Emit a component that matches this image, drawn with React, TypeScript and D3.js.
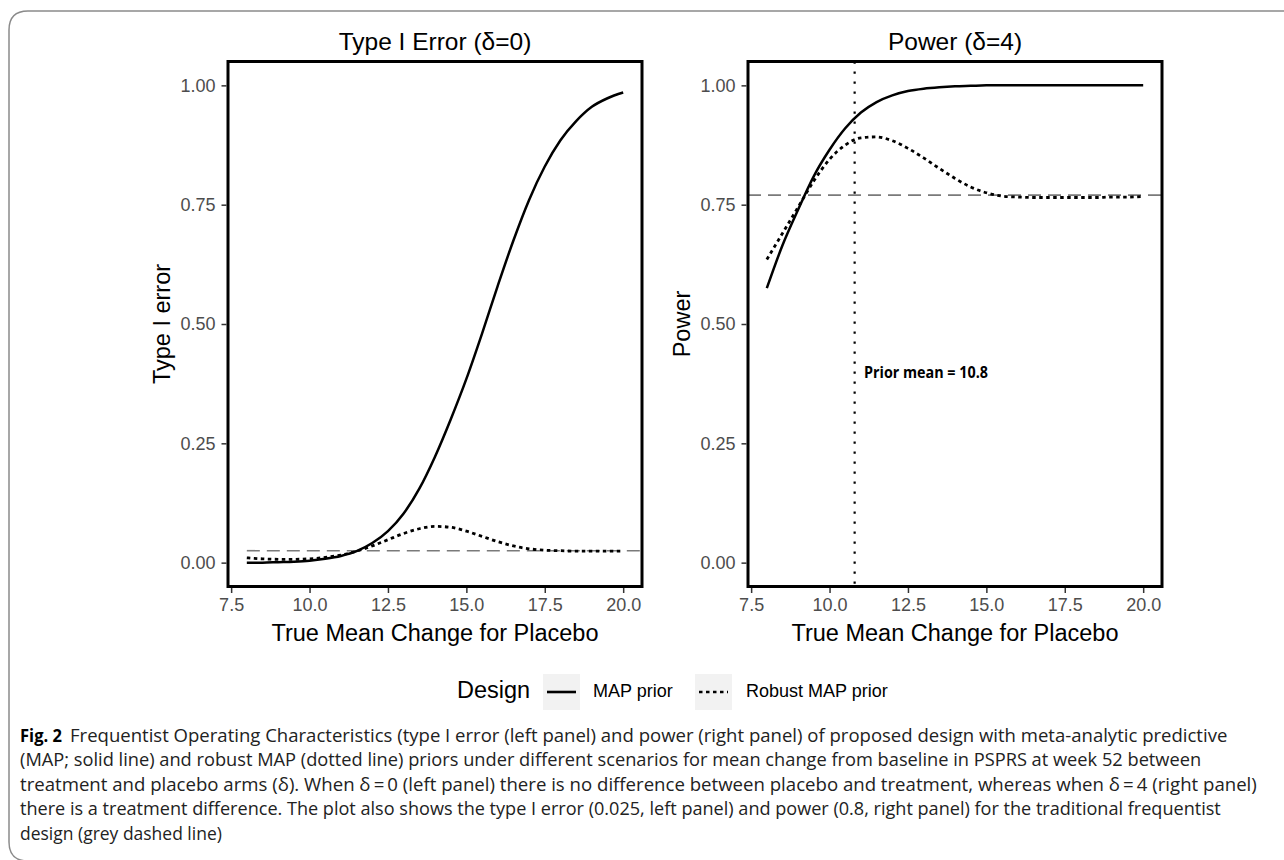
import * as d3 from "d3";
import { useEffect, useRef } from "react";

// values (x = true mean change for placebo)
const xGrid = [8, 8.5, 9, 9.5, 10, 10.5, 11, 11.5, 12, 12.5, 13, 13.5, 14, 14.5, 15, 15.5, 16, 16.5, 17, 17.5, 18, 18.5, 19, 19.5, 20];
const typeIMap = [0.0, 0.0, 0.001, 0.002, 0.004, 0.008, 0.014, 0.024, 0.041, 0.066, 0.103, 0.155, 0.222, 0.3, 0.385, 0.48, 0.58, 0.675, 0.76, 0.83, 0.885, 0.925, 0.955, 0.973, 0.985];
const typeIRobust = [0.01, 0.008, 0.007, 0.007, 0.008, 0.011, 0.016, 0.024, 0.035, 0.048, 0.061, 0.071, 0.076, 0.074, 0.066, 0.055, 0.044, 0.035, 0.029, 0.026, 0.025, 0.024, 0.024, 0.024, 0.024];
const powerMap = [0.575, 0.665, 0.74, 0.81, 0.865, 0.91, 0.943, 0.965, 0.979, 0.988, 0.993, 0.996, 0.998, 0.999, 1, 1, 1, 1, 1, 1, 1, 1, 1, 1, 1];
const powerRobust = [0.635, 0.69, 0.745, 0.8, 0.845, 0.875, 0.89, 0.892, 0.884, 0.868, 0.848, 0.826, 0.805, 0.787, 0.775, 0.768, 0.766, 0.765, 0.765, 0.765, 0.765, 0.765, 0.766, 0.766, 0.767];

const xTicks = [7.5, 10, 12.5, 15, 17.5, 20];
const yTicks = [0, 0.25, 0.5, 0.75, 1];
const refLevels = [0.025, 0.77];
const priorMean = 10.8;
const priorLabelPos = [11.1, 0.395];

const panelTitles = ["Type I Error (\u03b4=0)", "Power (\u03b4=4)"];
const yTitles = ["Type I error", "Power"];
const xTitle = "True Mean Change for Placebo";
const legendTitle = "Design";
const legendLabels = ["MAP prior", "Robust MAP prior"];

const captionLabel = "Fig. 2";
const captionLines = [
  "Frequentist Operating Characteristics (type I error (left panel) and power (right panel) of proposed design with meta-analytic predictive",
  "(MAP; solid line) and robust MAP (dotted line) priors under different scenarios for mean change from baseline in PSPRS at week 52 between",
  "treatment and placebo arms (\u03b4). When \u03b4\u2009=\u20090 (left panel) there is no difference between placebo and treatment, whereas when \u03b4\u2009=\u20094 (right panel)",
  "there is a treatment difference. The plot also shows the type I error (0.025, left panel) and power (0.8, right panel) for the traditional frequentist",
  "design (grey dashed line)",
];
// right end of each caption line (layout)
const captionEnds = [1228, 1202, 1258, 1222, 222];

const plotFont = "'Liberation Sans', Arial, Helvetica, sans-serif";
const captionFont = "'Open Sans', 'Noto Sans', sans-serif";

const W = 1284;
const H = 860;
const panelTop = 61.5;
const panelBottom = 586.5;
const panels = [
  { left: 228, right: 642, series: [typeIMap, typeIRobust], ref: refLevels[0], refFrom: 8, vline: false },
  { left: 748, right: 1162, series: [powerMap, powerRobust], ref: refLevels[1], refFrom: 7.4, vline: true },
];

const robustDash = "3.5,3.5";

// squeeze a text horizontally so that it spans [x0, x1]
function fitText(t: d3.Selection<SVGTextElement, unknown, null, undefined>, x0: number, x1: number) {
  const len = (t.node() as SVGTextElement).getComputedTextLength();
  const sx = len > 0 ? (x1 - x0) / len : 1;
  t.attr("x", 0).attr("transform", `translate(${x0},0) scale(${sx},1)`);
}

export default function App() {
  const svgRef = useRef<SVGSVGElement | null>(null);

  useEffect(() => {
    const svg = d3.select(svgRef.current);
    svg.selectAll("*").remove();

    svg.append("rect").attr("width", W).attr("height", H).attr("fill", "white");

    // article frame
    svg
      .append("path")
      .attr("d", "M1290,11 H28 Q9,11 9,30 V842 Q9,861 28,861")
      .attr("fill", "none")
      .attr("stroke", "#8a8a8a")
      .attr("stroke-width", 1.5);

    panels.forEach((p, i) => {
      const g = svg.append("g");
      const x = d3.scaleLinear().domain([7.4, 20.6]).range([p.left, p.right]);
      const y = d3.scaleLinear().domain([-0.05, 1.05]).range([panelBottom, panelTop]);

      // reference (traditional design) level
      g.append("line")
        .attr("x1", x(p.refFrom))
        .attr("x2", x(20.6))
        .attr("y1", y(p.ref))
        .attr("y2", y(p.ref))
        .attr("stroke", "#7a7a7a")
        .attr("stroke-width", 1.6)
        .attr("stroke-dasharray", "13,7");

      if (p.vline) {
        g.append("line")
          .attr("x1", x(priorMean))
          .attr("x2", x(priorMean))
          .attr("y1", y(1.05))
          .attr("y2", y(-0.05))
          .attr("stroke", "black")
          .attr("stroke-width", 2.2)
          .attr("stroke-dasharray", "2.2,7.8");
      }

      const line = d3
        .line<number>()
        .x((_, k) => x(xGrid[k]))
        .y((d) => y(d))
        .curve(d3.curveMonotoneX);

      g.append("path")
        .attr("d", line(p.series[1]))
        .attr("fill", "none")
        .attr("stroke", "black")
        .attr("stroke-width", 2.8)
        .attr("stroke-dasharray", robustDash);

      g.append("path")
        .attr("d", line(p.series[0]))
        .attr("fill", "none")
        .attr("stroke", "black")
        .attr("stroke-width", 2.5);

      if (p.vline) {
        const t = g
          .append("text")
          .attr("y", y(priorLabelPos[1]))
          .attr("dominant-baseline", "middle")
          .attr("font-family", captionFont)
          .attr("font-weight", "bold")
          .attr("font-size", 15.5)
          .text(`Prior mean = ${priorMean}`);
        fitText(t, x(priorLabelPos[0]), x(priorLabelPos[0]) + 124);
      }

      // panel border
      g.append("rect")
        .attr("x", p.left)
        .attr("y", panelTop)
        .attr("width", p.right - p.left)
        .attr("height", panelBottom - panelTop)
        .attr("fill", "none")
        .attr("stroke", "black")
        .attr("stroke-width", 3);

      const xAxis = g
        .append("g")
        .attr("transform", `translate(0,${panelBottom + 1.5})`)
        .call(d3.axisBottom(x).tickValues(xTicks).tickFormat(d3.format(".1f")).tickSize(5).tickPadding(5));
      const yAxis = g
        .append("g")
        .attr("transform", `translate(${p.left - 1.5},0)`)
        .call(d3.axisLeft(y).tickValues(yTicks).tickFormat(d3.format(".2f")).tickSize(5).tickPadding(6));

      [xAxis, yAxis].forEach((a) => {
        a.select(".domain").remove();
        a.attr("font-family", plotFont).attr("font-size", 18);
        a.selectAll("line").attr("stroke", "#333").attr("stroke-width", 1.5);
        a.selectAll("text").attr("fill", "#4d4d4d");
      });

      const cx = (p.left + p.right) / 2;
      g.append("text")
        .attr("x", cx)
        .attr("y", 50)
        .attr("text-anchor", "middle")
        .attr("font-family", plotFont)
        .attr("font-size", 24.5)
        .text(panelTitles[i]);

      g.append("text")
        .attr("x", cx)
        .attr("y", 641)
        .attr("text-anchor", "middle")
        .attr("font-family", plotFont)
        .attr("font-size", 23.5)
        .text(xTitle);

      g.append("text")
        .attr("transform", `translate(${p.left - 58},${(panelTop + panelBottom) / 2}) rotate(-90)`)
        .attr("text-anchor", "middle")
        .attr("font-family", plotFont)
        .attr("font-size", 23.5)
        .text(yTitles[i]);
    });

    // legend
    const lg = svg.append("g").attr("font-family", plotFont);
    const legendY = 692;
    lg.append("text")
      .attr("x", 457)
      .attr("y", legendY)
      .attr("dominant-baseline", "middle")
      .attr("font-size", 23.5)
      .text(legendTitle);
    const keyX = [543, 695];
    const labelX = [593, 746];
    legendLabels.forEach((lab, k) => {
      lg.append("rect")
        .attr("x", keyX[k])
        .attr("y", legendY - 18)
        .attr("width", 37)
        .attr("height", 36)
        .attr("fill", "#f2f2f2");
      lg.append("line")
        .attr("x1", keyX[k] + 4)
        .attr("x2", keyX[k] + 33)
        .attr("y1", legendY)
        .attr("y2", legendY)
        .attr("stroke", "black")
        .attr("stroke-width", 2.6)
        .attr("stroke-dasharray", k === 1 ? robustDash : null);
      lg.append("text")
        .attr("x", labelX[k])
        .attr("y", legendY)
        .attr("dominant-baseline", "middle")
        .attr("font-size", 18)
        .text(lab);
    });

    // caption
    const cg = svg.append("g").attr("font-family", captionFont).attr("font-size", 18).attr("fill", "#222");
    const figLabel = cg
      .append("text")
      .attr("y", 742)
      .attr("font-weight", "bold")
      .attr("fill", "black")
      .text(captionLabel);
    fitText(figLabel, 20, 62);
    captionLines.forEach((txt, k) => {
      const x0 = k === 0 ? 70 : 20;
      const t = cg
        .append("text")
        .attr("y", 742 + k * 24.5)
        .text(txt);
      fitText(t, x0, captionEnds[k]);
    });
  }, []);

  return (
    <svg
      ref={svgRef}
      width={W}
      height={H}
      style={{ position: "absolute", left: 0, top: 0, display: "block" }}
    />
  );
}
